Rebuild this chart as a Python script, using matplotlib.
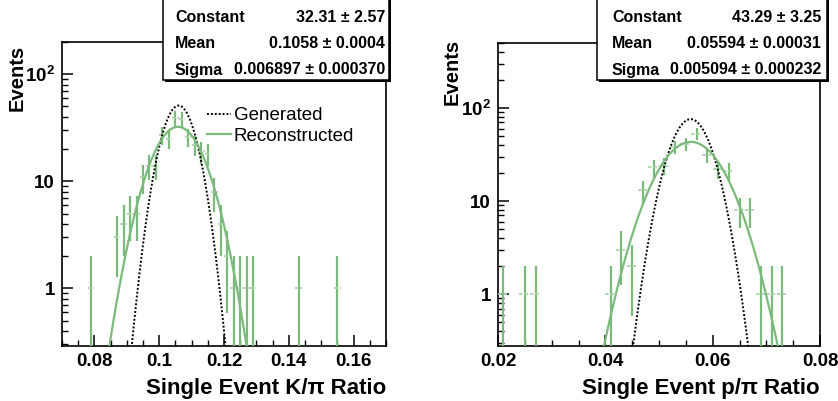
import numpy as np
import matplotlib
matplotlib.use('Agg')
import matplotlib.pyplot as plt
from matplotlib.ticker import FixedLocator, MultipleLocator, LogLocator, NullFormatter
from matplotlib.lines import Line2D
from matplotlib.patches import Rectangle

plt.rcParams['font.family'] = ['Liberation Sans', 'DejaVu Sans']
plt.rcParams['mathtext.fontset'] = 'custom'
plt.rcParams['mathtext.rm'] = 'Liberation Sans:bold'
plt.rcParams['mathtext.bf'] = 'Liberation Sans:bold'

# K/pi histogram (bin centres, counts)
kpi_x = [0.079, 0.087, 0.089, 0.091, 0.093, 0.095, 0.097, 0.099, 0.101, 0.103,
         0.105, 0.107, 0.109, 0.111, 0.113, 0.115, 0.117, 0.119, 0.121, 0.123,
         0.125, 0.127, 0.129, 0.143, 0.155]
kpi_n = [1, 3, 4, 5, 5, 11, 14, 14, 27, 25,
         39, 38, 26, 22, 19, 18, 8, 4, 2, 1,
         1, 1, 1, 1, 1]
# p/pi histogram
ppi_x = [0.021, 0.025, 0.027, 0.041, 0.043, 0.045, 0.047, 0.049, 0.051, 0.053,
         0.055, 0.057, 0.059, 0.061, 0.063, 0.065, 0.067, 0.069, 0.071, 0.073]
ppi_n = [1, 1, 1, 1, 3, 2, 13, 23, 24, 38,
         41, 53, 31, 22, 21, 8, 8, 1, 1, 1]
bin_w = 0.002

# fit results (from stats boxes) and generated shape
kpi_fit = (32.31, 0.1058, 0.006897)
ppi_fit = (43.29, 0.05594, 0.005094)
kpi_gen = (51.0, 0.1060, 0.0045)
ppi_gen = (76.0, 0.0559, 0.0032)

kpi_stats = [('Constant', '32.31 ± 2.57'), ('Mean', '0.1058 ± 0.0004'),
             ('Sigma', '0.006897 ± 0.000370')]
ppi_stats = [('Constant', '43.29 ± 3.25'), ('Mean', '0.05594 ± 0.00031'),
             ('Sigma', '0.005094 ± 0.000232')]

green = '#7aba7a'
lightgreen = '#acd5ac'

W, H = 838, 401
fig = plt.figure(figsize=(W / 100, H / 100), dpi=100)


def gaus(x, p):
    return p[0] * np.exp(-0.5 * ((x - p[1]) / p[2]) ** 2)


def panel(rect, xs, ns, fit, gen, xlim, ylim, xlabel, legend):
    ax = fig.add_axes([rect[0] / W, 1 - rect[3] / H, (rect[2] - rect[0]) / W, (rect[3] - rect[1]) / H])
    ax.set_yscale('log')
    xs = np.array(xs)
    ns = np.array(ns, dtype=float)
    err = np.sqrt(ns)
    lo = np.minimum(err, ns * 0.999)
    ax.vlines(xs, ns - lo, ns + err, color=green, lw=1.6, zorder=3)
    ax.hlines(ns, xs - bin_w / 2, xs + bin_w / 2, color=lightgreen, lw=1.3,
              linestyles=(0, (2, 1)), zorder=3)
    xx = np.linspace(xlim[0], xlim[1], 1000)
    ax.plot(xx, gaus(xx, gen), color='black', lw=1.4, ls=(0, (1, 1)), zorder=4)
    ax.plot(xx, gaus(xx, fit), color=green, lw=1.6, zorder=4)
    ax.set_xlim(*xlim)
    ax.set_ylim(*ylim)

    ax.xaxis.set_major_locator(MultipleLocator(0.02))
    ax.xaxis.set_minor_locator(MultipleLocator(0.005))
    ax.yaxis.set_major_locator(FixedLocator([1, 10, 100]))
    ax.yaxis.set_minor_locator(LogLocator(base=10, subs=np.arange(2, 10)))
    ax.yaxis.set_minor_formatter(NullFormatter())
    ax.set_yticklabels(['1', '10', r'$\mathbf{10^{2}}$'])
    ax.xaxis.set_major_formatter(plt.FuncFormatter(lambda v, p: ('%g' % round(v, 3))))
    ax.tick_params(which='both', direction='in', top=False, right=False)
    ax.tick_params(which='major', length=8, width=1.1, labelsize=13.5, pad=5)
    ax.tick_params(which='minor', length=4, width=1.0)
    for lab in ax.get_xticklabels() + ax.get_yticklabels():
        lab.set_fontweight('bold')
    for s in ax.spines.values():
        s.set_linewidth(1.2)
    ax.set_xlabel(xlabel, fontsize=16, fontweight='bold', loc='right', labelpad=6)

    if legend:
        hs = [Line2D([], [], color='black', lw=1.4, ls=(0, (1, 1))),
              Line2D([], [], color=green, lw=1.6)]
        ax.legend(hs, ['Generated', 'Reconstructed'], loc='upper left',
                  bbox_to_anchor=(0.418, 0.817), frameon=False, fontsize=13.5,
                  handlelength=1.3, handletextpad=0.15, labelspacing=0.2,
                  borderpad=0)
    return ax


panel((62, 42, 386, 346), kpi_x, kpi_n, kpi_fit, kpi_gen, (0.07, 0.17), (0.29, 200),
      'Single Event K/π Ratio', True)
panel((498, 43, 820, 346), ppi_x, ppi_n, ppi_fit, ppi_gen, (0.02, 0.08), (0.277, 500),
      'Single Event p/π Ratio', False)

fig.text(17 / W, 1 - 45 / H, 'Events', rotation=90, fontsize=14.5, fontweight='bold',
         ha='center', va='top')
fig.text(452 / W, 1 - 39 / H, 'Events', rotation=90, fontsize=14.5, fontweight='bold',
         ha='center', va='top')


def stats_box(x0, x1, y1, rows, xl, xr):
    # box with a thin ROOT-style shadow on the right and bottom (pixel units)
    fig.patches.append(Rectangle((x0 / W, 1 - y1 / H), (x1 - x0) / W, (y1 + 5) / H,
                                 transform=fig.transFigure, facecolor='white',
                                 edgecolor='black', lw=1.1, zorder=10))
    fig.patches.append(Rectangle(((x0 + 2) / W, 1 - (y1 + 2) / H), (x1 - x0) / W, 2 / H,
                                 transform=fig.transFigure, facecolor='black',
                                 edgecolor='none', zorder=9))
    fig.patches.append(Rectangle((x1 / W, 1 - (y1 + 2) / H), 2 / W, (y1 + 2) / H,
                                 transform=fig.transFigure, facecolor='black',
                                 edgecolor='none', zorder=9))
    for i, (name, val) in enumerate(rows):
        y = 1 - (18 + 26 * i) / H
        fig.text(xl / W, y, name, fontsize=11.5, fontweight='bold', va='center',
                 ha='left', zorder=11)
        fig.text(xr / W, y, val, fontsize=11.5, fontweight='bold', va='center',
                 ha='right', zorder=11)


stats_box(163, 389, 80, kpi_stats, 175, 385)
stats_box(597, 827, 80, ppi_stats, 612, 821)

fig.savefig('out.png', dpi=100)
